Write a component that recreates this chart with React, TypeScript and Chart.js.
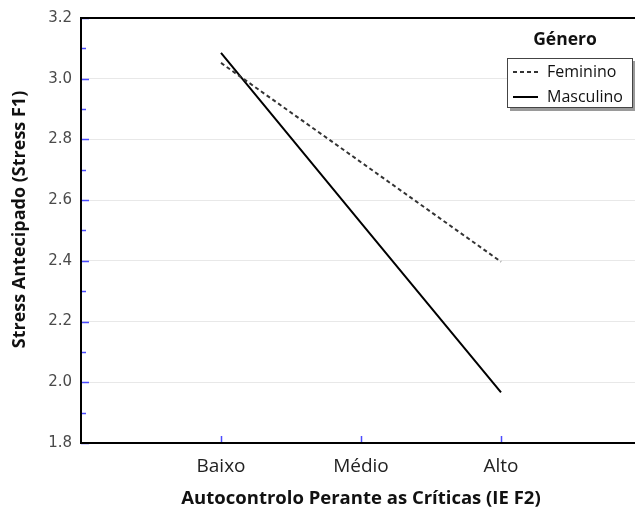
import React, { useEffect, useRef } from "react";
import { Chart, registerables } from "chart.js";

Chart.register(...registerables);

const categories = ["Baixo", "Médio", "Alto"];
const feminino = [3.052, 2.725, 2.397];
const masculino = [3.085, 2.525, 1.967];
const seriesLabels = ["Feminino", "Masculino"];
const legendTitle = "Género";
const yTitle = "Stress Antecipado (Stress F1)";
const xTitle = "Autocontrolo Perante as Críticas (IE F2)";

const TICK_BLUE = "#4b4bff";

const framePlugin = {
  id: "frame",
  afterDraw(chart: any) {
    const { ctx, chartArea, scales } = chart;
    const y = scales.y;
    const x = scales.x;
    ctx.save();
    // blue ticks on y axis
    ctx.strokeStyle = TICK_BLUE;
    ctx.lineWidth = 1.5;
    for (let v = 1.8; v <= 3.2001; v += 0.1) {
      const isMajor = Math.abs(Math.round(v * 10) % 2) === 0;
      const py = Math.round(y.getPixelForValue(v)) + 0.5;
      ctx.beginPath();
      ctx.moveTo(chartArea.left, py);
      ctx.lineTo(chartArea.left + (isMajor ? 8 : 5), py);
      ctx.stroke();
    }
    // blue ticks on x axis
    categories.forEach((_, i) => {
      const px = Math.round(x.getPixelForValue(i + 1)) + 0.5;
      ctx.beginPath();
      ctx.moveTo(px, chartArea.bottom);
      ctx.lineTo(px, chartArea.bottom - 7);
      ctx.stroke();
    });
    // frame
    ctx.strokeStyle = "#000";
    ctx.lineWidth = 2;
    ctx.beginPath();
    ctx.moveTo(chartArea.right, chartArea.top);
    ctx.lineTo(chartArea.left, chartArea.top);
    ctx.lineTo(chartArea.left, chartArea.bottom);
    ctx.lineTo(chartArea.right, chartArea.bottom);
    ctx.stroke();

    // y axis title
    ctx.save();
    ctx.translate(20, (chartArea.top + chartArea.bottom) / 2 - 11);
    ctx.rotate(-Math.PI / 2);
    ctx.fillStyle = "#111";
    ctx.font = "bold 18px 'Open Sans'";
    ctx.textAlign = "center";
    ctx.textBaseline = "middle";
    ctx.fillText(yTitle, 0, 0);
    ctx.restore();

    // legend
    const bx = 507, by = 58, bw = 126, bh = 50;
    ctx.fillStyle = "#9a9a9a";
    ctx.fillRect(bx + 3, by + 3, bw, bh);
    ctx.fillStyle = "#fff";
    ctx.fillRect(bx, by, bw, bh);
    ctx.strokeStyle = "#444";
    ctx.lineWidth = 1;
    ctx.strokeRect(bx + 0.5, by + 0.5, bw - 1, bh - 1);

    ctx.fillStyle = "#111";
    ctx.font = "bold 17.5px 'Open Sans'";
    ctx.textAlign = "center";
    ctx.textBaseline = "middle";
    ctx.fillText(legendTitle, 565, 40);

    ctx.font = "16px 'Open Sans'";
    ctx.textAlign = "left";
    chart.data.datasets.forEach((ds: any, i: number) => {
      const ly = by + 14 + i * 25;
      ctx.strokeStyle = ds.borderColor;
      ctx.lineWidth = 2;
      ctx.setLineDash(ds.borderDash || []);
      ctx.beginPath();
      ctx.moveTo(bx + 6, ly);
      ctx.lineTo(bx + 31, ly);
      ctx.stroke();
      ctx.setLineDash([]);
      ctx.fillStyle = "#111";
      ctx.fillText(ds.label, bx + 40, ly);
    });
    ctx.restore();
  },
};

export default function App() {
  const ref = useRef<HTMLCanvasElement | null>(null);
  useEffect(() => {
    if (!ref.current) return;
    const chart = new Chart(ref.current, {
      type: "line",
      data: {
        datasets: [
          {
            label: seriesLabels[0],
            data: feminino.map((v, i) => ({ x: i + 1, y: v })),
            borderColor: "#333",
            borderWidth: 2,
            borderDash: [4, 3],
            pointRadius: 0,
            fill: false,
          },
          {
            label: seriesLabels[1],
            data: masculino.map((v, i) => ({ x: i + 1, y: v })),
            borderColor: "#000",
            borderWidth: 2,
            pointRadius: 0,
            fill: false,
          },
        ],
      },
      options: {
        animation: false,
        responsive: false,
        layout: { padding: { top: 17, right: 19, left: 0, bottom: 0 } },
        plugins: { legend: { display: false }, tooltip: { enabled: false } },
        scales: {
          x: {
            type: "linear",
            min: 0,
            max: 4,
            ticks: {
              stepSize: 1,
              autoSkip: false,
              maxRotation: 0,
              padding: 12,
              color: "#222",
              font: { family: "'Open Sans'", size: 19 },
              callback: (v: any) => categories[Number(v) - 1] ?? "",
            },
            grid: { display: false, drawTicks: false },
            border: { display: false },
            title: {
              display: true,
              text: xTitle,
              color: "#111",
              font: { family: "'Open Sans'", size: 18.5, weight: "bold" },
              padding: { top: 0, bottom: 0 },
            },
            afterFit: (s: any) => {
              s.height = 67;
            },
          },
          y: {
            min: 1.8,
            max: 3.2,
            ticks: {
              stepSize: 0.2,
              padding: 9,
              color: "#4a4a4a",
              font: { family: "'DejaVu Sans'", size: 15 },
              callback: (v: any) => Number(v).toFixed(1),
            },
            grid: { color: "#e8e8e8", lineWidth: 1, drawTicks: false },
            border: { display: false },
            afterFit: (s: any) => {
              s.width = 81;
            },
          },
        },
      },
      plugins: [framePlugin],
    } as any);
    return () => chart.destroy();
  }, []);
  return (
    <div style={{ position: "absolute", left: 0, top: 0, width: 635, height: 510, overflow: "hidden", background: "#fff" }}>
      <canvas ref={ref} width={660} height={510} />
    </div>
  );
}
